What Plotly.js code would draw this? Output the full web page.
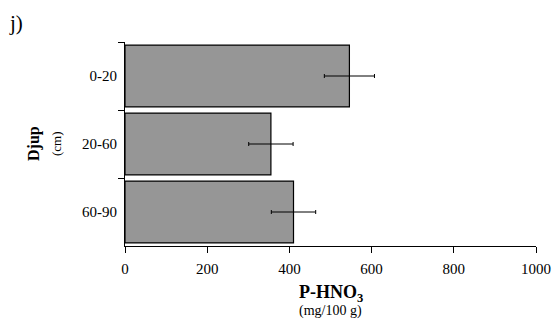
<!DOCTYPE html>
<html>
<head>
<meta charset="utf-8">
<script src="https://cdn.plot.ly/plotly-3.0.1.min.js"></script>
<style>
  html, body { margin: 0; padding: 0; background: #fff; }
  #chart { width: 557px; height: 325px; }
</style>
</head>
<body>
<div id="chart"></div>
<script>
const depths = ['0-20', '20-60', '60-90'];
const values = [546, 355, 410];
const errors = [61, 54, 54];
const xTicks = [0, 200, 400, 600, 800, 1000];

const font = 'Liberation Serif';

const trace = {
  type: 'bar',
  orientation: 'h',
  y: depths,
  x: values,
  marker: { color: '#969696', line: { color: '#000', width: 1.2 } },
  error_x: { type: 'data', array: errors, visible: true, color: '#000', thickness: 1, width: 2 },
  hoverinfo: 'skip'
};

const layout = {
  width: 557,
  height: 325,
  margin: { l: 125, r: 21, t: 42, b: 79 },
  paper_bgcolor: '#fff',
  plot_bgcolor: '#fff',
  showlegend: false,
  bargap: 0.09,
  font: { family: font, size: 15, color: '#000' },
  xaxis: {
    range: [0, 1000],
    tickvals: xTicks,
    ticktext: xTicks.map(String),
    showgrid: false,
    zeroline: false,
    showline: true,
    linecolor: '#000',
    linewidth: 1,
    ticks: 'outside',
    ticklen: 6,
    tickcolor: '#000',
    tickwidth: 1,
    ticklabelstandoff: 3,
    tickfont: { family: font, size: 15, color: '#000' },
    fixedrange: true
  },
  yaxis: {
    type: 'category',
    categoryorder: 'array',
    categoryarray: depths,
    autorange: 'reversed',
    tickson: 'boundaries',
    showgrid: false,
    zeroline: false,
    showline: true,
    linecolor: '#000',
    linewidth: 1,
    ticks: 'outside',
    ticklen: 6,
    tickcolor: '#000',
    tickwidth: 1,
    ticklabelstandoff: 4,
    tickfont: { family: font, size: 15, color: '#000' },
    fixedrange: true
  },
  annotations: [
    { text: 'j)', xref: 'paper', yref: 'paper', x: -125/411 + 7/411, y: 1 + 42/204 - 23/204,
      xanchor: 'left', yanchor: 'middle', showarrow: false, font: { family: font, size: 21, color: '#000' } },
    { text: '<b>Djup</b>', xref: 'paper', yref: 'paper', x: -(125 - 34)/411, y: 0.5,
      xanchor: 'center', yanchor: 'middle', textangle: -90, showarrow: false,
      font: { family: font, size: 16, color: '#000' } },
    { text: '(cm)', xref: 'paper', yref: 'paper', x: -(125 - 56)/411, y: 0.5,
      xanchor: 'center', yanchor: 'middle', textangle: -90, showarrow: false,
      font: { family: font, size: 13, color: '#000' } },
    { text: '<b>P-HNO<sub>3</sub></b>', xref: 'paper', yref: 'paper', x: 0.5, y: -(293 - 246)/204,
      xanchor: 'center', yanchor: 'middle', showarrow: false,
      font: { family: font, size: 18, color: '#000' } },
    { text: '(mg/100 g)', xref: 'paper', yref: 'paper', x: 0.5, y: -(311 - 246)/204,
      xanchor: 'center', yanchor: 'middle', showarrow: false,
      font: { family: font, size: 14, color: '#000' } }
  ]
};

Plotly.newPlot('chart', [trace], layout, { staticPlot: true, displayModeBar: false });
</script>
</body>
</html>
